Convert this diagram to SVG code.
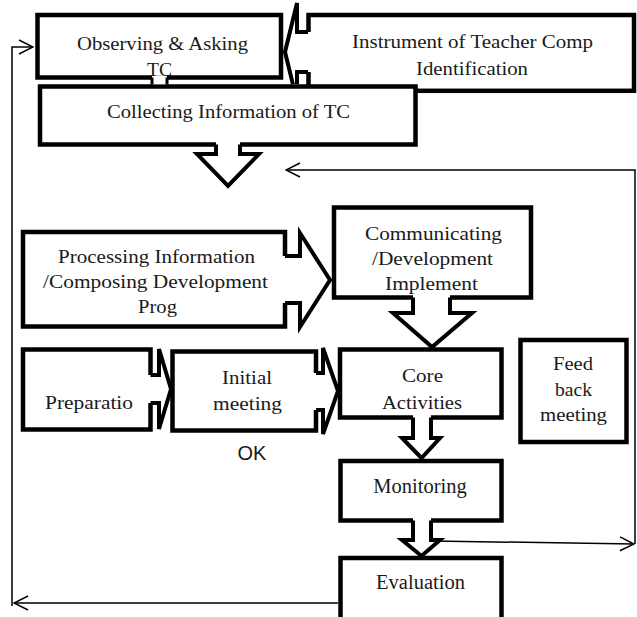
<svg xmlns="http://www.w3.org/2000/svg" width="637" height="617" viewBox="0 0 637 617">
<defs>
<style>
.box{fill:#fff;stroke:#000;stroke-width:4.5}
.af{fill:#fff;stroke:none}
.ao{fill:none;stroke:#000;stroke-width:4;stroke-linejoin:miter}
.thin{fill:none;stroke:#000;stroke-width:1.5}
.t{font-family:"Liberation Serif","Times New Roman",serif;font-size:19px;fill:#1a1a1a;text-anchor:middle}
.t2{font-family:"Liberation Serif","Times New Roman",serif;font-size:20.5px;fill:#1a1a1a;text-anchor:middle}
.ok{font-family:"Liberation Sans",Arial,sans-serif;font-size:20px;fill:#1a1a1a;text-anchor:middle}
</style>
<marker id="ah" viewBox="0 0 16 16" refX="15" refY="8" markerWidth="16" markerHeight="16" markerUnits="userSpaceOnUse" orient="auto">
<path d="M1,1 L15,8 L1,15" fill="none" stroke="#000" stroke-width="1.5"/>
</marker>
</defs>
<rect width="637" height="617" fill="#fff"/>

<g id="instrument">
<rect class="box" x="308.5" y="15" width="325.5" height="75.8"/>
<text class="t" x="472.5" y="48" textLength="241" lengthAdjust="spacingAndGlyphs">Instrument of Teacher Comp</text>
<text class="t" x="472" y="75" textLength="112" lengthAdjust="spacingAndGlyphs">Identification</text>
</g>
<g id="observing">
<rect class="box" x="37.5" y="15" width="243.5" height="62.5"/>
<text class="t" x="162.5" y="50" textLength="171" lengthAdjust="spacingAndGlyphs">Observing &amp; Asking</text>
</g>
<g id="collecting">
<rect class="box" x="40" y="86.5" width="375.5" height="58"/>
<text class="t" x="228.5" y="118" textLength="243" lengthAdjust="spacingAndGlyphs">Collecting Information of TC</text>
</g>
<g id="processing">
<rect class="box" x="23" y="232" width="262" height="94.5"/>
<text class="t" x="156.5" y="263" textLength="197" lengthAdjust="spacingAndGlyphs">Processing Information</text>
<text class="t" x="155.5" y="288" textLength="225" lengthAdjust="spacingAndGlyphs">/Composing Development</text>
<text class="t" x="157.5" y="313" textLength="39" lengthAdjust="spacingAndGlyphs">Prog</text>
</g>
<g id="communicating">
<rect class="box" x="334" y="207.5" width="197" height="90"/>
<text class="t" x="433.5" y="240" textLength="137" lengthAdjust="spacingAndGlyphs">Communicating</text>
<text class="t" x="432.5" y="265" textLength="121" lengthAdjust="spacingAndGlyphs">/Development</text>
<text class="t" x="431.5" y="290" textLength="93" lengthAdjust="spacingAndGlyphs">Implement</text>
</g>
<g id="preparation">
<rect class="box" x="23" y="349.5" width="127.5" height="80"/>
<text class="t" x="89" y="409" textLength="88" lengthAdjust="spacingAndGlyphs">Preparatio</text>
</g>
<g id="initial">
<rect class="box" x="172.5" y="351.5" width="143.5" height="79"/>
<text class="t" x="247" y="384" textLength="50" lengthAdjust="spacingAndGlyphs">Initial</text>
<text class="t" x="247.5" y="410" textLength="69" lengthAdjust="spacingAndGlyphs">meeting</text>
</g>
<g id="core">
<rect class="box" x="340" y="349.5" width="161.5" height="68"/>
<text class="t" x="422.5" y="382" textLength="41" lengthAdjust="spacingAndGlyphs">Core</text>
<text class="t" x="422" y="409" textLength="80" lengthAdjust="spacingAndGlyphs">Activities</text>
</g>
<g id="feedback">
<rect class="box" x="520.5" y="340" width="106" height="102"/>
<text class="t" x="573" y="370" textLength="40" lengthAdjust="spacingAndGlyphs">Feed</text>
<text class="t" x="573.5" y="396" textLength="37" lengthAdjust="spacingAndGlyphs">back</text>
<text class="t" x="573.5" y="421" textLength="67" lengthAdjust="spacingAndGlyphs">meeting</text>
</g>
<g id="monitoring">
<rect class="box" x="340.5" y="461" width="161" height="59.5"/>
<text class="t2" x="420" y="493">Monitoring</text>
</g>
<g id="evaluation">
<rect class="box" x="340.5" y="558" width="161" height="80"/>
<text class="t2" x="420.5" y="589">Evaluation</text>
</g>
<g id="ok-label">
<text class="ok" x="252" y="460">OK</text>
</g>

<g id="connectors">
<!-- Instrument -> Observing -->
<polygon class="af" points="312,32 297,32 297,3 285,52 292.9,84 297,84 297,72 312,72"/>
<path class="ao" d="M308,32 H297 V3 L285,52 L292.9,84.2 M297,84.2 V72 H308"/>
<!-- Observing -> Collecting -->
<rect class="af" x="152" y="75.3" width="15" height="8.9"/>
<path class="ao" style="stroke-width:3" d="M152,77.5 V84.5 M167,77.5 V84.5"/>
<text class="t" x="159.5" y="76" textLength="25" lengthAdjust="spacingAndGlyphs">TC</text>
<!-- Collecting down -->
<polygon class="af" points="216,141 240,141 240,154 259,154 228,186 197,154 216,154"/>
<path class="ao" d="M216,144.5 V154 H197 L228,186 L259,154 H240 V144.5"/>
<!-- Processing -> Communicating -->
<polygon class="af" points="282,256 300,256 300,233 330,280 300,327 300,303 282,303"/>
<path class="ao" d="M285,256 H300 V233 L330,280 L300,327 V303 H285"/>
<!-- Communicating -> Core -->
<polygon class="af" points="413,294 450,294 450,313 472,313 432,347 393,313 413,313"/>
<path class="ao" d="M413,297.5 V313 H393 L432,347 L472,313 H450 V297.5"/>
<!-- Preparation -> Initial -->
<polygon class="af" points="148,375 159,375 159,349 171,389 159,429 159,403 148,403"/>
<path class="ao" d="M150.5,375 H159 V349 L171,389 L159,429 V403 H150.5"/>
<!-- Initial -> Core -->
<polygon class="af" points="313,373 323,373 323,348 338,391 323,434 323,410 313,410"/>
<path class="ao" d="M316,373 H323 V348 L338,391 L323,434 V410 H316"/>
<!-- Core -> Monitoring -->
<polygon class="af" points="413,414 431,414 431,438 440,438 421.5,458 402,438 413,438"/>
<path class="ao" d="M413,417.5 V438 H402 L421.5,458 L440,438 H431 V417.5"/>
<!-- Monitoring -> Evaluation -->
<polygon class="af" points="413,517 431,517 431,540 440,540 421.5,556 402,540 413,540"/>
<path class="ao" d="M413,520.5 V540 H402 L421.5,556 L440,540 H431 V520.5"/>
<!-- feedback loop right -->
<path class="thin" d="M433,541 L634,544" marker-end="url(#ah)"/>
<path class="thin" d="M635,544 V170 H286" marker-end="url(#ah)"/>
<!-- evaluation loop left -->
<path class="thin" d="M338,603 H14" marker-end="url(#ah)"/>
<path class="thin" d="M12,606 V47 H33" marker-end="url(#ah)"/>
</g>
</svg>
